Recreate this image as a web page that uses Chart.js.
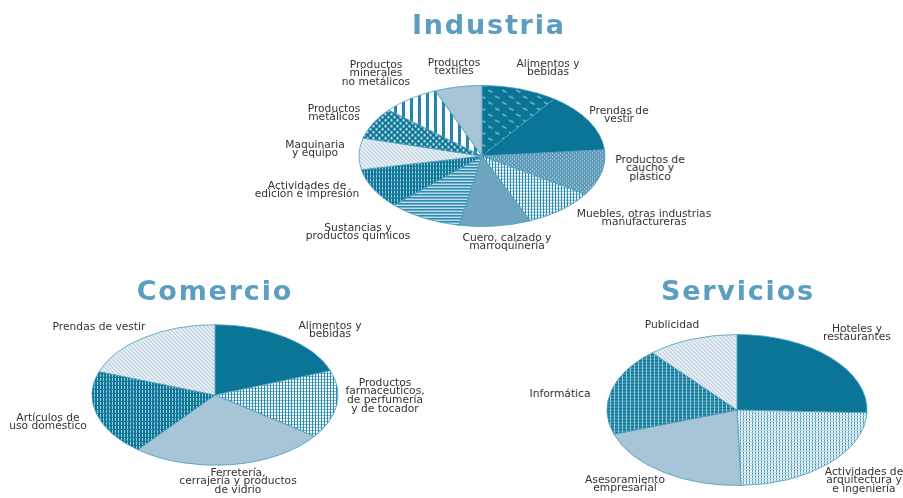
<!DOCTYPE html>
<html><head><meta charset="utf-8">
<script src="https://cdn.jsdelivr.net/npm/chart.js@4/dist/chart.umd.min.js"></script>
<style>
body{margin:0;width:903px;height:498px;background:#fff;position:relative;overflow:hidden;font-family:"DejaVu Sans",Verdana,sans-serif;}
.title{position:absolute;font-weight:bold;font-size:27px;line-height:26px;letter-spacing:1.8px;padding-left:1.8px;color:#5b9ec0;transform:translateX(-50%);white-space:nowrap;z-index:2;}
.lbl{position:absolute;font-size:10.7px;line-height:8.7px;color:#333;text-align:center;transform:translateX(-50%);white-space:nowrap;z-index:2;}
canvas{position:absolute;z-index:1;}
</style></head><body>
<script>
// ---------- DATA ----------
const indCategories = [['Alimentos y','bebidas'],['Prendas de','vestir'],['Productos de','caucho y','plástico'],['Muebles, otras industrias','manufactureras'],['Cuero, calzado y','marroquinería'],['Sustancias y','productos químicos'],['Actividades de','edición e impresión'],['Maquinaria','y equipo'],['Productos','metálicos'],['Productos','minerales','no metálicos'],['Productos','textiles']];
const indValues = [10.0, 13.6, 10.5, 9.5, 9.4, 9.7, 9.2, 7.2, 7.2, 7.5, 6.2];

const comCategories = [['Alimentos y','bebidas'],['Productos','farmacéuticos,','de perfumería','y de tocador'],['Ferretería,','cerrajería y productos','de vidrio'],['Artículos de','uso doméstico'],['Prendas de vestir']];
const comValues = [19.4, 15.6, 25.8, 19.6, 19.6];

const serCategories = [['Hoteles y','restaurantes'],['Actividades de','arquitectura y','e ingeniería'],['Asesoramiento','empresarial'],['Informática'],['Publicidad']];
const serValues = [25.6, 23.9, 20.3, 18.9, 11.3];

const titles = ['Industria','Comercio','Servicios'];

// ---------- LAYOUT ----------
const indLabelPos = [[548,64],[619,111],[650,160],[644,214],[507,238],[358,228],[307,186],[315,145],[334,109],[376,65],[454,63]];
const comLabelPos = [[330,326],[385,383],[238,473],[48,418],[99,327]];
const serLabelPos = [[857,329],[864,472],[625,480],[560,394],[672,325]];
const titlePos = [[488,12],[214,278],[737,278]];

// ---------- PATTERNS ----------
const DARK='#0b7597', MID='#6ea4bf', LIGHT='#a8c4d7';
function pat(ratio,w,h,draw){
  const c=document.createElement('canvas'); c.width=w; c.height=h;
  const x=c.getContext('2d'); draw(x,w,h);
  const p=x.createPattern(c,'repeat');
  p.setTransform(new DOMMatrix([1,0,0,1/ratio,0,0]));
  return p;
}
function makePatterns(r){
  return {
    dashDark: pat(r,14,12,(x)=>{x.fillStyle=DARK;x.fillRect(0,0,14,12);x.strokeStyle='#a9cfdd';x.lineWidth=1.2;x.beginPath();x.moveTo(1,1.5);x.lineTo(5.5,3.5);x.moveTo(8,7.5);x.lineTo(12.5,9.5);x.stroke();}),
    dotsMid: pat(r,4,4,(x)=>{x.fillStyle='#5f9cba';x.fillRect(0,0,4,4);x.fillStyle='#d3e5ee';x.fillRect(0,0,1,1);x.fillRect(2,2,1,1);}),
    gridWhite: pat(r,3,3,(x)=>{x.fillStyle='#fff';x.fillRect(0,0,3,3);x.fillStyle='#2a8db0';x.fillRect(0,0,1,3);x.fillStyle='rgba(42,141,176,0.7)';x.fillRect(1,0,2,1);}),
    hStripe: pat(r,2,3,(x)=>{x.fillStyle='#fff';x.fillRect(0,0,2,3);x.fillStyle='#2b8bae';x.fillRect(0,0,2,2);}),
    vStripeDark: pat(r,3,4,(x)=>{x.fillStyle='#0e7899';x.fillRect(0,0,3,4);x.fillStyle='#9fcadb';x.fillRect(1,0,1,3);}),
    diagLight: pat(r,4,4,(x)=>{x.fillStyle='#e6eef4';x.fillRect(0,0,4,4);x.fillStyle='#afc8d8';for(let i=0;i<4;i++)x.fillRect(i,i,1,1);}),
    dotsDark: pat(r,6,6,(x)=>{x.fillStyle=DARK;x.fillRect(0,0,6,6);x.fillStyle='#d8e9f0';x.beginPath();x.arc(1.5,1.5,1.2,0,7);x.arc(4.5,4.5,1.2,0,7);x.fill();}),
    vBars: pat(r,8,1,(x)=>{x.fillStyle='#fff';x.fillRect(0,0,8,1);x.fillStyle='#2386aa';x.fillRect(0,0,3,1);}),
    gridDark: pat(r,4,3,(x)=>{x.fillStyle=DARK;x.fillRect(0,0,4,3);x.fillStyle='rgba(190,225,236,0.75)';x.fillRect(0,0,1,3);x.fillStyle='rgba(190,225,236,0.5)';x.fillRect(1,0,3,1);}),
    vDotWhite: pat(r,3,3,(x)=>{x.fillStyle='#fff';x.fillRect(0,0,3,3);x.fillStyle='#2e8db0';x.fillRect(0,0,1,2);x.fillStyle='rgba(46,141,176,0.5)';x.fillRect(1,2,2,1);})
  };
}

// ---------- SQUASH PLUGIN (elliptical pies) ----------
const squash={id:'squash',
  beforeDatasetsDraw(chart,args,opts){const c=chart.ctx,a=chart.chartArea;const cx=(a.left+a.right)/2,cy=(a.top+a.bottom)/2;c.save();c.translate(cx,cy);c.scale(1,opts.ratio);c.translate(-cx,-cy);},
  afterDatasetsDraw(chart){chart.ctx.restore();}
};

function addPie(cx,cy,rx,ry,cats,vals,colorsFn){
  const ratio=ry/rx, size=Math.ceil(rx*2+10);
  const cv=document.createElement('canvas'); cv.width=size; cv.height=size;
  cv.style.left=(cx-size/2)+'px'; cv.style.top=(cy-size/2)+'px';
  document.body.appendChild(cv);
  const P=makePatterns(ratio);
  new Chart(cv,{type:'pie',
    data:{labels:cats.map(c=>c.join(' ')),datasets:[{data:vals,backgroundColor:colorsFn(P),borderColor:'#4a9cbb',borderWidth:1}]},
    options:{responsive:false,animation:false,devicePixelRatio:1,radius:rx,layout:{padding:0},events:[],
      plugins:{legend:{display:false},tooltip:{enabled:false},squash:{ratio}}},
    plugins:[squash]});
}
addPie(482,156,123,70.5,indCategories,indValues,P=>[P.dashDark,DARK,P.dotsMid,P.gridWhite,MID,P.hStripe,P.vStripeDark,P.diagLight,P.dotsDark,P.vBars,LIGHT]);
addPie(215,395.3,123,70.3,comCategories,comValues,P=>[DARK,P.gridWhite,LIGHT,P.vStripeDark,P.diagLight]);
addPie(736.7,409.5,130,75.5,serCategories,serValues,P=>[DARK,P.vDotWhite,LIGHT,P.gridDark,P.diagLight]);

// ---------- TEXT ----------
function addLabels(cats,pos){
  cats.forEach((lines,i)=>{const d=document.createElement('div');d.className='lbl';d.innerHTML=lines.join('<br>');d.style.left=pos[i][0]+'px';d.style.top=(pos[i][1]-4.5)+'px';document.body.appendChild(d);});
}
addLabels(indCategories,indLabelPos);addLabels(comCategories,comLabelPos);addLabels(serCategories,serLabelPos);
titles.forEach((t,i)=>{const d=document.createElement('div');d.className='title';d.textContent=t;d.style.left=titlePos[i][0]+'px';d.style.top=titlePos[i][1]+'px';document.body.appendChild(d);});
</script>
</body></html>
